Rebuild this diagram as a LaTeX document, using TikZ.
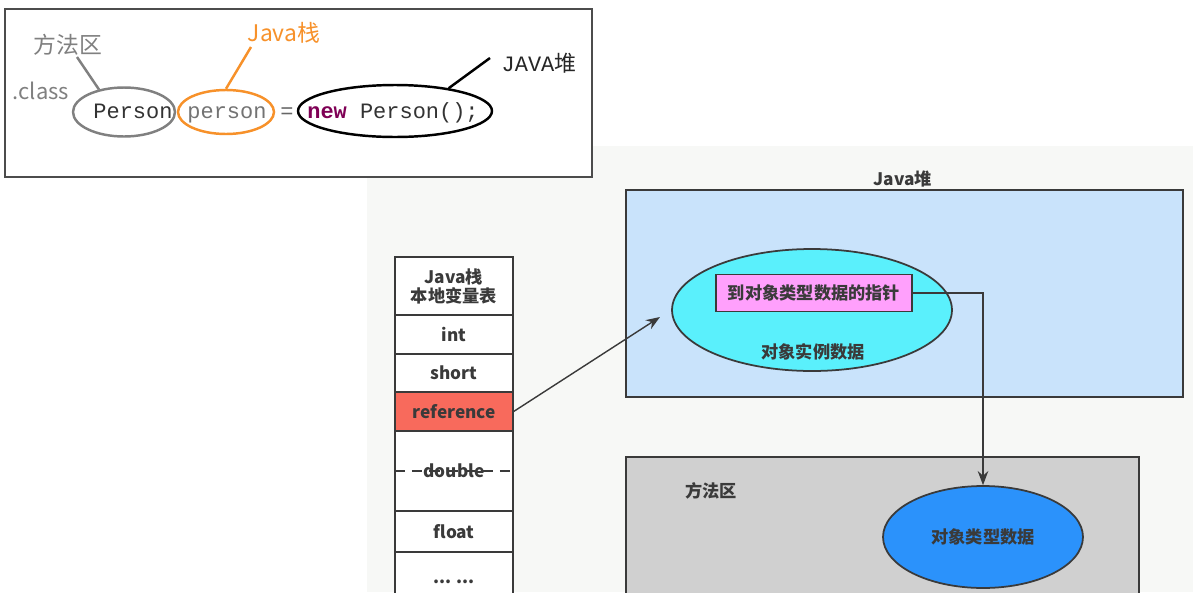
\documentclass[tikz,border=0pt]{standalone}
\usepackage{fontspec}
\setmainfont{Noto Sans CJK SC}
\setmonofont{Liberation Mono}
\usetikzlibrary{shapes.geometric,arrows.meta}
\definecolor{stagebg}{HTML}{F7F8F6}
\definecolor{heapfill}{HTML}{C9E3FB}
\definecolor{instfill}{HTML}{5AF0FC}
\definecolor{ptrfill}{HTML}{FFA0FC}
\definecolor{reffill}{HTML}{F86A5C}
\definecolor{methfill}{HTML}{D0D0D0}
\definecolor{typefill}{HTML}{2B92FB}
\definecolor{jorange}{HTML}{F7912A}
\definecolor{jpurple}{HTML}{7F0055}
\definecolor{edge}{HTML}{3A3A3A}
\newcommand{\lblfont}{\fontsize{9.8}{11.8}\selectfont\bfseries}
\newcommand{\codefont}{\fontsize{12.5}{14}\selectfont\ttfamily}
\tikzset{
  cell/.style={draw=edge, line width=0.75pt, fill=white, minimum width=2.36cm,
    inner sep=0pt, align=center, text=edge, font=\lblfont},
  oval/.style={ellipse, line width=1.4pt, inner sep=0pt},
  codetxt/.style={font=\codefont, anchor=base, inner sep=0pt},
  zone/.style={draw=edge, line width=1pt, inner sep=0pt},
  link/.style={->, >={Stealth[length=8pt,width=6pt]}, line width=0.8pt, draw=edge},
}
\begin{document}
\begin{tikzpicture}[x=0.02cm, y=-0.02cm]
  \useasboundingbox (0,0) rectangle (1193,592);
  \clip (0,0) rectangle (1193,592);
  % Stage behind the memory picture
  \fill[stagebg] (367,146) rectangle (1193,592);

  % Code line on top
  \node[draw=black!70, line width=0.8pt, fill=white, minimum width=11.74cm,
    minimum height=3.36cm] (codebox) at (298.5,93) {};
  \node[oval, draw=gray, minimum width=2.04cm, minimum height=0.98cm] (clsoval) at (124,112) {};
  \node[oval, draw=jorange, minimum width=1.92cm, minimum height=0.88cm] (stkoval) at (226,112) {};
  \node[oval, draw=black, minimum width=3.88cm, minimum height=1.04cm] (newoval) at (395,111) {};
  \node[codetxt, text=black!80] (clstxt) at (133,118) {Person};
  \node[codetxt, text=black!55] (stktxt) at (227,118) {person};
  \node[codetxt, text=black!60] (eqtxt) at (287,118) {=};
  \node[codetxt, text=black!80] (newtxt) at (393,118)
    {\textbf{\color{jpurple}new} Person();};
  % Labels and their leaders
  \node[font=\fontsize{13}{15}\selectfont, text=gray] (clslbl) at (68,45) {方法区};
  \node[font=\fontsize{12.5}{15}\selectfont, text=gray] (dotcls) at (41,91) {.class};
  \node[font=\fontsize{13}{15}\selectfont, text=jorange] (stklbl) at (284,33) {Java栈};
  \node[font=\fontsize{12.5}{14}\selectfont, text=black!85] (heaplbl) at (539,63)
    {\ttfamily JAVA\rmfamily 堆};
  \coordinate (clstip) at (77,57);
  \coordinate (stktip) at (251,47);
  \coordinate (heaptip) at (490,58);
  \draw[gray, line width=1.4pt] (clstip) -- (clsoval.138);
  \draw[jorange, line width=1.4pt] (stktip) -- (stkoval.north);
  \draw[black, line width=1.4pt] (heaptip) -- (newoval.23);

  % Java stack, local variable table
  \node[cell, minimum height=1.16cm] (hdr) at (454,286) {Java栈\\[-1pt]本地变量表};
  \node[cell, minimum height=0.78cm] (vint) at (454,334.5) {int};
  \node[cell, minimum height=0.76cm] (vshort) at (454,373) {short};
  \node[cell, minimum height=0.78cm, fill=reffill] (vref) at (454,411.5) {reference};
  \node[cell, minimum height=1.6cm] (vdouble) at (454,471) {double};
  \node[cell, minimum height=0.82cm] (vfloat) at (454,531.5) {float};
  \node[cell, minimum height=1.2cm] (vmore) at (454,582) {... ...};
  \draw[edge, line width=0.75pt, dash pattern=on 6pt off 4pt]
    (vdouble.west) -- (vdouble.east);

  % Zones
  \node[zone, fill=heapfill, minimum width=11.14cm, minimum height=4.14cm] (heap) at (904.5,293.5) {};
  \node[font=\lblfont, text=edge] (heapttl) at (903,179) {Java堆};
  \node[zone, fill=methfill, minimum width=10.26cm, minimum height=3.26cm] (meth) at (882.5,538.5) {};
  \node[font=\lblfont, text=edge] (methlbl) at (711,491) {方法区};

  % Object instance in the heap
  \node[ellipse, draw=edge, line width=1pt, fill=instfill, inner sep=0pt,
    minimum width=5.6cm, minimum height=2.44cm] (instobj) at (812,310) {};
  \node[draw=edge, line width=1pt, fill=ptrfill, inner sep=0pt, minimum width=3.92cm,
    minimum height=0.74cm, font=\lblfont, text=edge] (ptr) at (814,293) {到对象类型数据的指针};
  \node[font=\lblfont, text=edge] (instlbl) at (813,352) {对象实例数据};

  % Type data in the method area
  \node[ellipse, draw=edge, line width=1pt, fill=typefill, inner sep=0pt,
    minimum width=4cm, minimum height=2.04cm, font=\lblfont, text=edge] (typeobj) at (983,537) {对象类型数据};

  % Connectors
  \coordinate (refhead) at (660,317);
  \draw[link] (vref.east) -- (refhead);
  \draw[link] (ptr.east) -| (typeobj.north);
\end{tikzpicture}
\end{document}
